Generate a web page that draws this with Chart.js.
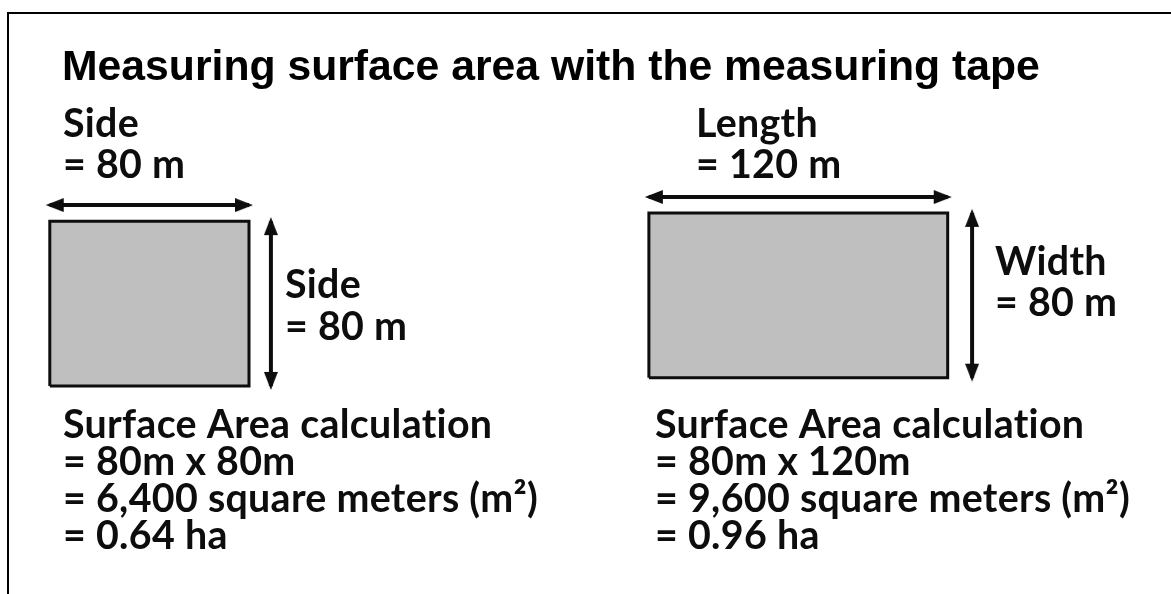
<!DOCTYPE html>
<html>
<head>
<meta charset="utf-8">
<title>Measuring surface area with the measuring tape</title>
<script src="https://cdn.jsdelivr.net/npm/chart.js@4.4.0/dist/chart.umd.min.js"></script>
<style>
  html, body { margin: 0; padding: 0; background: #fff; }
  .frame { position: relative; width: 1171px; height: 594px; overflow: hidden; }
  .frame::before {
    content: "";
    position: absolute;
    left: 7px; top: 12px; right: -4px; bottom: -4px;
    border-top: 2px solid #000;
    border-left: 2px solid #000;
  }
  canvas { position: absolute; left: 0; top: 0; }
</style>
</head>
<body>
<div class="frame"><canvas id="myChart" width="1171" height="594"></canvas></div>
<script>
// plot sizes, metres
const plotNames = ["Square", "Rectangle"];
const plotLengths = [80, 120]; // horizontal side
const plotWidths = [80, 80];   // vertical side
const topLabels = ["Side", "Length"];
const sideLabels = ["Side", "Width"];

const titleText = "Measuring surface area with the measuring tape";

// layout (metres on the hidden axes)
const xMax = 1171 / 2.49;
const yMax = 594 / 2.06;
const plotOrigins = [{ x: 20, y: 101 }, { x: 260.6, y: 105 }];
const arrowGaps = [{ top: 7.8, side: 8.8 }, { top: 7.7, side: 9.8 }];

const ink = "#0d0d0d";

// arrow head with its tip at the centre of the image
const headLen = 14;
const headWide = 14;
const tipPush = 4;
const arrowHead = document.createElement("canvas");
arrowHead.width = 2 * (headLen + tipPush);
arrowHead.height = headWide;
(() => {
  const c = arrowHead.getContext("2d");
  c.fillStyle = ink;
  c.beginPath();
  c.moveTo(tipPush, 0);
  c.lineTo(headLen + 2 * tipPush, headWide / 2);
  c.lineTo(tipPush, headWide);
  c.closePath();
  c.fill();
})();

let datasets = [];
plotNames.forEach((name, i) => {
  const o = plotOrigins[i];
  const l = plotLengths[i];
  const w = plotWidths[i];
  datasets.push({
    label: name,
    data: [
      { x: o.x, y: o.y },
      { x: o.x + l, y: o.y },
      { x: o.x + l, y: o.y + w },
      { x: o.x, y: o.y + w },
      { x: o.x, y: o.y },
    ],
    showLine: true,
    fill: "shape",
    backgroundColor: "#bfbfbf",
    borderColor: ink,
    borderWidth: 3,
    borderJoinStyle: "miter",
    pointRadius: 0,
  });
  // arrow along the top
  const yTop = o.y + w + arrowGaps[i].top;
  datasets.push({
    label: name + " length",
    data: [
      { x: o.x, y: yTop },
      { x: o.x + l, y: yTop },
    ],
    showLine: true,
    fill: false,
    borderColor: ink,
    borderWidth: 4,
    pointStyle: arrowHead,
    pointRadius: 1,
    pointRotation: [180, 0],
  });
  // arrow down the side
  const xSide = o.x + l + arrowGaps[i].side;
  datasets.push({
    label: name + " width",
    data: [
      { x: xSide, y: o.y },
      { x: xSide, y: o.y + w },
    ],
    showLine: true,
    fill: false,
    borderColor: ink,
    borderWidth: 4,
    pointStyle: arrowHead,
    pointRadius: 1,
    pointRotation: [90, 270],
  });
});

function fitSize(ctx, font, sample, target) {
  ctx.font = font(100);
  return (100 * target) / ctx.measureText(sample).width;
}

const titleFont = (s) => `bold ${s}px "Liberation Sans", Arial, sans-serif`;
const bodyFont = (s) => `bold ${s}px Lato, "Open Sans", sans-serif`;

const labelPlugin = {
  id: "labels",
  afterDraw(chart) {
    const ctx = chart.ctx;
    ctx.save();
    ctx.textBaseline = "alphabetic";
    ctx.textAlign = "left";

    const tSize = fitSize(ctx, titleFont, titleText, 978);
    ctx.font = titleFont(tSize);
    ctx.fillStyle = "#000";
    ctx.fillText(titleText, 62, 80);

    // a little spacing also keeps Lato from joining "ti"
    ctx.letterSpacing = "0.3px";
    const bSize = fitSize(ctx, bodyFont, "Surface Area calculation", 425);
    ctx.font = bodyFont(bSize);
    ctx.fillStyle = ink;

    const topPos = [{ x: 63, y: 137 }, { x: 696, y: 137 }];
    const sidePos = [{ x: 285, y: 298, gap: 42 }, { x: 995, y: 275, gap: 41 }];
    const calcX = [63, 655];
    const calcY = [438, 475, 512, 549];

    plotNames.forEach((name, i) => {
      const l = plotLengths[i];
      const w = plotWidths[i];
      ctx.fillText(topLabels[i], topPos[i].x, topPos[i].y);
      ctx.fillText(`= ${l} m`, topPos[i].x, topPos[i].y + 41);
      ctx.fillText(sideLabels[i], sidePos[i].x, sidePos[i].y);
      ctx.fillText(`= ${w} m`, sidePos[i].x, sidePos[i].y + sidePos[i].gap);

      const area = l * w;
      const lines = [
        "Surface Area calculation",
        `= ${w}m x ${l}m`,
        `= ${area.toLocaleString("en-US")} square meters (m²)`,
        `= ${(area / 10000).toFixed(2)} ha`,
      ];
      lines.forEach((t, k) => ctx.fillText(t, calcX[i], calcY[k]));
    });
    ctx.restore();
  },
};

const ctx = document.getElementById("myChart");
new Chart(ctx, {
  type: "scatter",
  data: { datasets: datasets },
  options: {
    responsive: false,
    animation: false,
    events: [],
    layout: { padding: 0, autoPadding: false },
    plugins: {
      legend: { display: false },
      tooltip: { enabled: false },
    },
    scales: {
      x: { type: "linear", display: false, min: 0, max: xMax },
      y: { type: "linear", display: false, min: 0, max: yMax },
    },
  },
  plugins: [labelPlugin],
});
</script>
</body>
</html>
